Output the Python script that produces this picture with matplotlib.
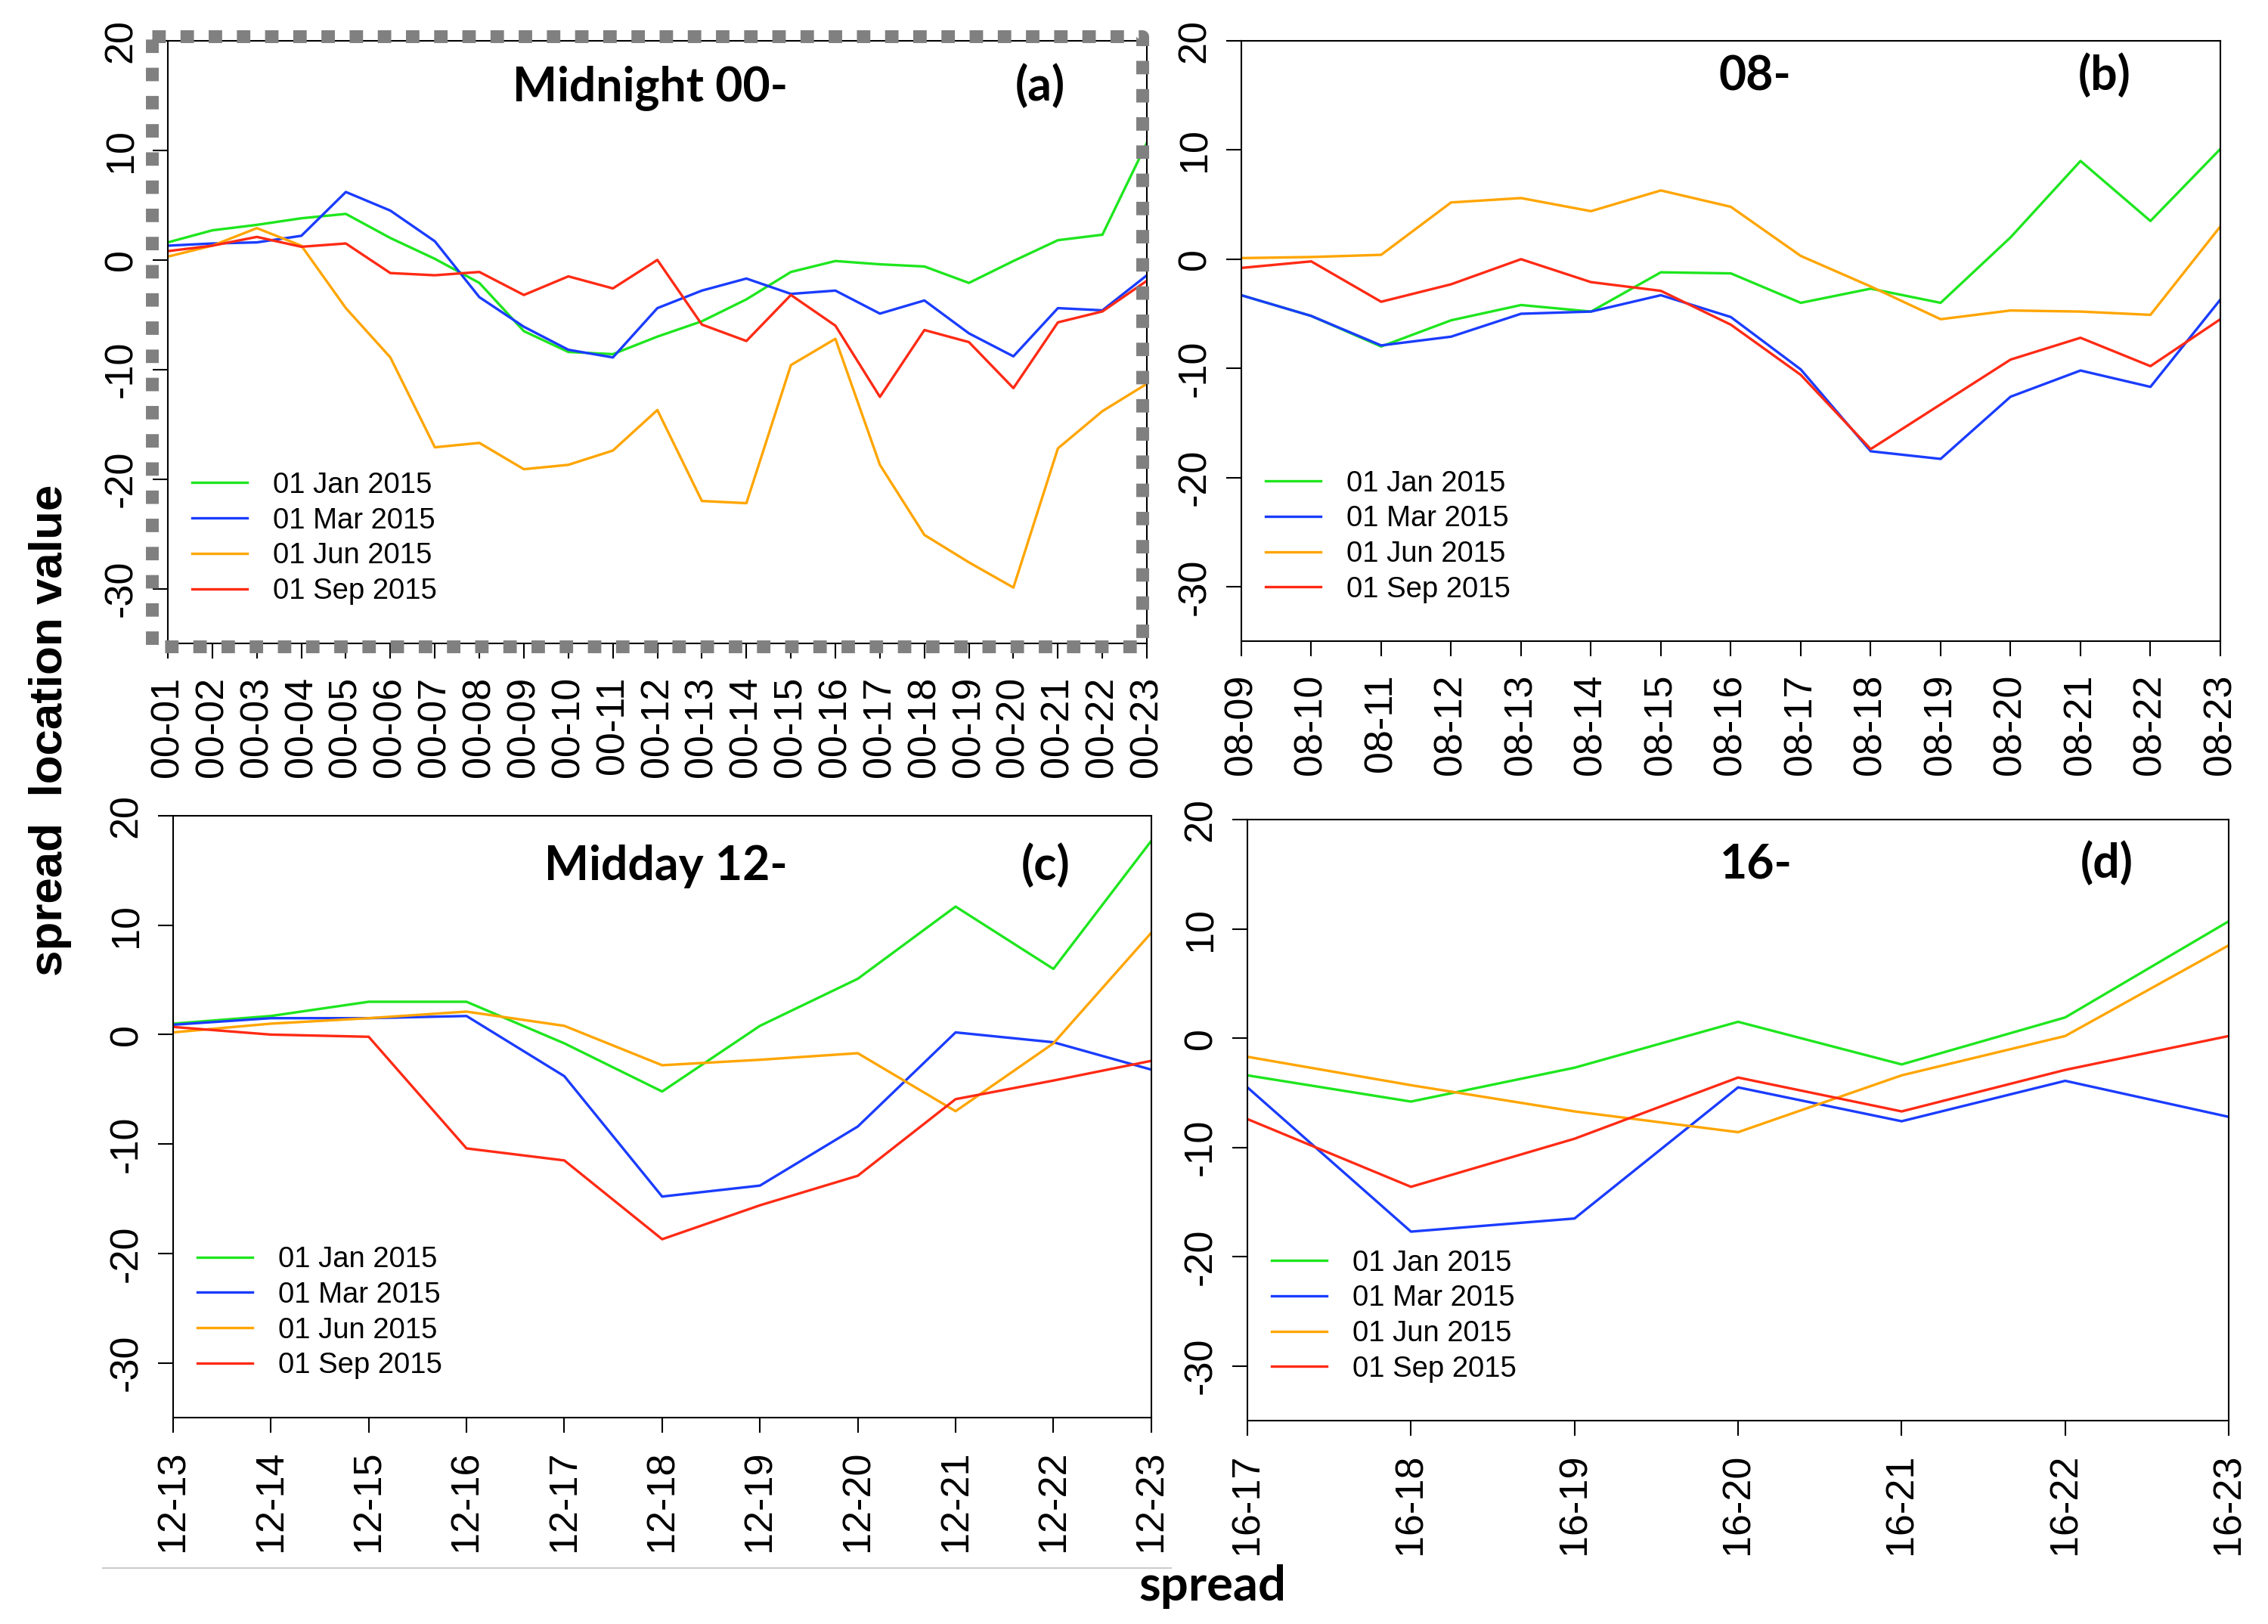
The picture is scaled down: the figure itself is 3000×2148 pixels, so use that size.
import matplotlib
matplotlib.use("Agg")
import matplotlib.pyplot as plt
from matplotlib.lines import Line2D

# --- data ---
series_names = ['01 Jan 2015', '01 Mar 2015', '01 Jun 2015', '01 Sep 2015']
series_colors = ['#1EE61E', '#1A3CFF', '#FFA500', '#FF2A14']

labels_a = [f"00-{h:02d}" for h in range(1, 24)]
jan_a = [1.6, 2.7, 3.2, 3.8, 4.2, 2.0, 0.1, -2.1, -6.5, -8.4, -8.6, -7.0,
         -5.6, -3.6, -1.1, -0.1, -0.4, -0.6, -2.1, -0.1, 1.8, 2.3, 10.7]
mar_a = [1.3, 1.5, 1.6, 2.2, 6.2, 4.5, 1.7, -3.4, -6.1, -8.2, -8.9, -4.4,
         -2.8, -1.7, -3.1, -2.8, -4.9, -3.7, -6.7, -8.8, -4.4, -4.6, -1.4]
jun_a = [0.3, 1.3, 2.9, 1.3, -4.4, -8.9, -17.1, -16.7, -19.1, -18.7, -17.4, -13.7,
         -22.0, -22.2, -9.6, -7.2, -18.7, -25.1, -27.6, -29.9, -17.2, -13.8, -11.3]
sep_a = [0.8, 1.3, 2.1, 1.2, 1.5, -1.2, -1.4, -1.1, -3.2, -1.5, -2.6, 0.0,
         -5.9, -7.4, -3.2, -6.0, -12.5, -6.4, -7.5, -11.7, -5.7, -4.7, -1.9]

labels_b = [f"08-{h:02d}" for h in range(9, 24)]
jan_b = [-3.3, -5.2, -8.0, -5.6, -4.2, -4.8, -1.2, -1.3, -4.0, -2.7, -4.0, 2.0, 9.0, 3.5, 10.1]
mar_b = [-3.3, -5.2, -7.9, -7.1, -5.0, -4.8, -3.3, -5.3, -10.1, -17.6, -18.3, -12.6, -10.2, -11.7, -3.7]
jun_b = [0.1, 0.2, 0.4, 5.2, 5.6, 4.4, 6.3, 4.8, 0.3, -2.5, -5.5, -4.7, -4.8, -5.1, 3.0]
sep_b = [-0.8, -0.2, -3.9, -2.3, 0.0, -2.1, -2.9, -6.0, -10.6, -17.4, -13.3, -9.2, -7.2, -9.8, -5.5]

labels_c = [f"12-{h:02d}" for h in range(13, 24)]
jan_c = [1.0, 1.7, 3.0, 3.0, -0.8, -5.2, 0.8, 5.1, 11.7, 6.0, 17.7]
mar_c = [0.9, 1.5, 1.5, 1.7, -3.8, -14.8, -13.8, -8.4, 0.2, -0.7, -3.2]
jun_c = [0.2, 1.0, 1.5, 2.1, 0.8, -2.8, -2.3, -1.7, -7.0, -0.8, 9.3]
sep_c = [0.7, 0.0, -0.2, -10.4, -11.5, -18.7, -15.6, -12.9, -5.9, -4.2, -2.4]

labels_d = [f"16-{h:02d}" for h in range(17, 24)]
jan_d = [-3.4, -5.8, -2.7, 1.5, -2.4, 1.9, 10.7]
mar_d = [-4.5, -17.7, -16.5, -4.5, -7.6, -3.9, -7.2]
jun_d = [-1.7, -4.3, -6.7, -8.6, -3.4, 0.2, 8.5]
sep_d = [-7.4, -13.6, -9.2, -3.6, -6.7, -2.9, 0.2]

y_ticks = [-30, -20, -10, 0, 10, 20]

panels = [
    # labels, series, title, tag, axes rect, title x, tag x, text y
    (labels_a, [jan_a, mar_a, jun_a, sep_a], 'Midnight 00-', '(a)',
     [0.0740, 0.6038, 0.4317, 0.3711], 0.493, 0.891, 0.901),
    (labels_b, [jan_b, mar_b, jun_b, sep_b], '08-', '(b)',
     [0.5473, 0.6052, 0.4317, 0.3696], 0.525, 0.882, 0.918),
    (labels_c, [jan_c, mar_c, jun_c, sep_c], 'Midday 12-', '(c)',
     [0.0763, 0.1271, 0.4313, 0.3706], 0.504, 0.892, 0.893),
    (labels_d, [jan_d, mar_d, jun_d, sep_d], '16-', '(d)',
     [0.5500, 0.1252, 0.4327, 0.3701], 0.518, 0.876, 0.903),
]

TICK_FONT = 'Liberation Sans'
TITLE_FONT = 'Lato'

fig = plt.figure(figsize=(30, 21.48), dpi=100)

for labels, values, title, tag, rect, tx, gx, ty in panels:
    ax = fig.add_axes(rect)
    x = list(range(len(labels)))
    for vals, name, col in zip(values, series_names, series_colors):
        ax.plot(x, vals, color=col, linewidth=2.4, label=name)

    ax.set_xlim(0, len(labels) - 1)
    ax.set_ylim(-35, 20)
    ax.set_xticks(x)
    ax.set_xticklabels(labels, rotation=90, fontsize=37.5, family=TICK_FONT)
    ax.set_yticks(y_ticks)
    ax.set_yticklabels([str(v) for v in y_ticks], rotation=90, fontsize=37.5,
                       family=TICK_FONT, va='center')
    ax.tick_params(axis='x', length=14.4, width=1.5, pad=17)
    ax.tick_params(axis='y', length=14.4, width=1.5, pad=12)
    for s in ax.spines.values():
        s.set_linewidth(1.5)

    ax.text(tx, ty, title, transform=ax.transAxes, ha='center', va='baseline',
            fontsize=45, fontweight='bold', family=TITLE_FONT)
    ax.text(gx, ty, tag, transform=ax.transAxes, ha='center', va='baseline',
            fontsize=45, fontweight='bold', family=TITLE_FONT)

    ax.legend(loc='upper left', bbox_to_anchor=(0.025, 0.285), frameon=False,
              borderaxespad=0, borderpad=0, handlelength=1.9, handletextpad=0.9,
              labelspacing=0.28, prop={'family': TICK_FONT, 'size': 27.5})

# dashed grey frame around panel (a)
fig.add_artist(Line2D([0.067, 0.5037, 0.5037, 0.067, 0.067],
                      [0.9777, 0.9777, 0.602, 0.602, 0.9777],
                      color='#808080', linewidth=12.2, linestyle=(0, (1.05, 1.15)),
                      dash_capstyle='butt', solid_joinstyle='miter'))

# faint separator line near the bottom
fig.add_artist(Line2D([136 / 3000, 1549 / 3000], [1 - 2074 / 2148] * 2,
                      color='#cccccc', linewidth=1.5))

fig.text(0.0223, 0.5503, 'spread  location value', rotation=90, ha='center', va='center',
         fontsize=44.6, fontweight='bold', family=TICK_FONT)
fig.text(0.5347, 0.0144, 'spread', ha='center', va='baseline',
         fontsize=47, fontweight='bold', family=TITLE_FONT)

fig.savefig('out.png', dpi=100)
